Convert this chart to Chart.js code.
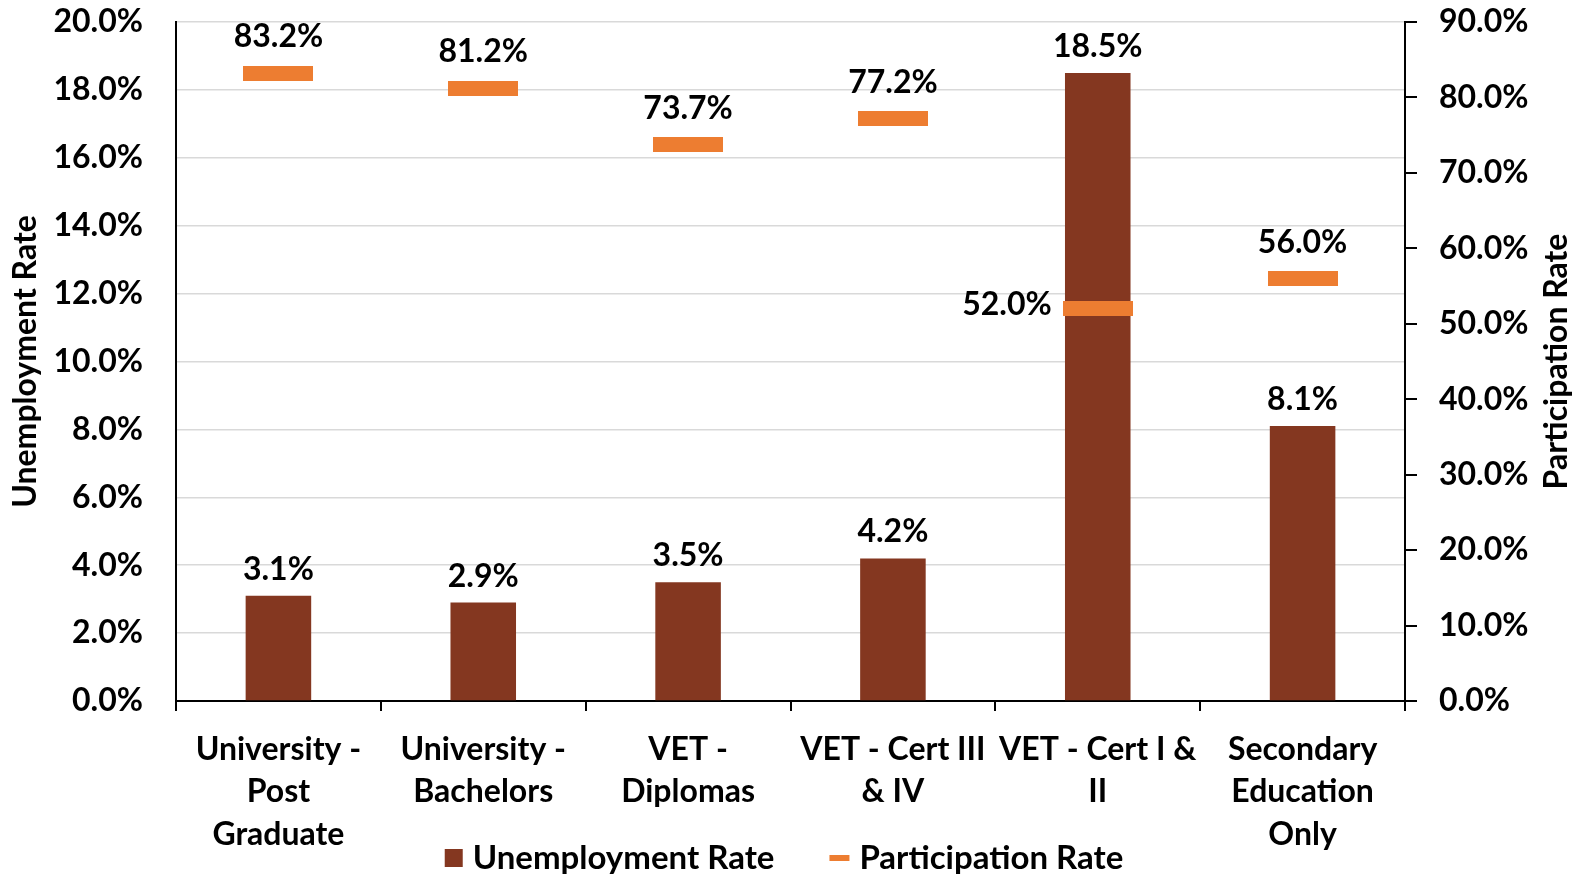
<!DOCTYPE html>
<html>
<head>
<meta charset="utf-8">
<script src="https://cdn.jsdelivr.net/npm/chart.js@4.4.1/dist/chart.umd.min.js"></script>
<style>
  html, body { margin: 0; padding: 0; background: #fff; }
  #wrap { width: 1578px; height: 883px; }
</style>
</head>
<body>
<div id="wrap"><canvas id="rateChart" width="1578" height="883"></canvas></div>
<script>
const categories = [
  ['University -', 'Post', 'Graduate'],
  ['University -', 'Bachelors'],
  ['VET -', 'Diplomas'],
  ['VET - Cert III', '& IV'],
  ['VET - Cert I &', 'II'],
  ['Secondary', 'Education', 'Only']
];
const unemploymentRate = [3.1, 2.9, 3.5, 4.2, 18.5, 8.1];
const participationRate = [83.2, 81.2, 73.7, 77.2, 52.0, 56.0];
const leftTicks = [0, 2, 4, 6, 8, 10, 12, 14, 16, 18, 20];
const rightTicks = [0, 10, 20, 30, 40, 50, 60, 70, 80, 90];

const BROWN = '#843720';
const ORANGE = '#ED7D31';
const FONT = 'Lato, "Open Sans", sans-serif';
const BOLD = 'bold 32px ' + FONT;

const makeRect = (w, h, color) => {
  const c = document.createElement('canvas');
  c.width = w;
  c.height = h;
  const g = c.getContext('2d');
  g.fillStyle = color;
  g.fillRect(0, 0, w, h);
  return c;
};

const markerImg = makeRect(70, 15, ORANGE);

// value labels above bars and markers
const valueLabels = {
  id: 'valueLabels',
  afterDatasetsDraw(chart) {
    const ctx = chart.ctx;
    ctx.save();
    ctx.fillStyle = '#000';
    ctx.font = BOLD;
    chart.getDatasetMeta(0).data.forEach((bar, i) => {
      ctx.textAlign = 'center';
      ctx.textBaseline = 'alphabetic';
      ctx.fillText(unemploymentRate[i].toFixed(1) + '%', bar.x, bar.y - 16);
    });
    chart.getDatasetMeta(1).data.forEach((pt, i) => {
      const txt = participationRate[i].toFixed(1) + '%';
      if (i === 4) {
        ctx.textAlign = 'right';
        ctx.textBaseline = 'middle';
        ctx.fillText(txt, pt.x - 46, pt.y - 4);
      } else {
        ctx.textAlign = 'center';
        ctx.textBaseline = 'alphabetic';
        ctx.fillText(txt, pt.x, pt.y - 26);
      }
    });
    ctx.restore();
  }
};

// right axis title (reads bottom to top) and the bottom legend
const extras = {
  id: 'extras',
  afterDraw(chart) {
    const ctx = chart.ctx;
    const area = chart.chartArea;
    ctx.save();
    ctx.fillStyle = '#000';
    ctx.font = BOLD;

    ctx.save();
    ctx.translate(1557, (area.top + area.bottom) / 2);
    ctx.rotate(-Math.PI / 2);
    ctx.textAlign = 'center';
    ctx.textBaseline = 'middle';
    ctx.fillText('Participation Rate', 0, 0);
    ctx.restore();

    const ds = chart.data.datasets;
    ctx.font = 'bold 33px ' + FONT;
    const w1 = ctx.measureText(ds[0].label).width;
    const w2 = ctx.measureText(ds[1].label).width;
    const gap = 55;
    const total = 18 + 10 + w1 + gap + 20 + 10 + w2;
    let x = 784 - total / 2;
    const cy = 858;
    ctx.textAlign = 'left';
    ctx.textBaseline = 'middle';
    ctx.fillStyle = BROWN;
    ctx.fillRect(x, cy - 9, 18, 18);
    ctx.fillStyle = '#000';
    ctx.fillText(ds[0].label, x + 28, cy);
    x += 28 + w1 + gap;
    ctx.fillStyle = ORANGE;
    ctx.fillRect(x, cy - 3, 20, 6);
    ctx.fillStyle = '#000';
    ctx.fillText(ds[1].label, x + 30, cy);
    ctx.restore();
  }
};

const pct = (v) => v.toFixed(1) + '%';

// keep the plot top where the reference has it
const fixTop = (scale) => {
  scale.paddingTop = 22;
};

new Chart(document.getElementById('rateChart'), {
  type: 'bar',
  data: {
    labels: categories,
    datasets: [
      {
        label: 'Unemployment Rate',
        data: unemploymentRate,
        backgroundColor: BROWN,
        yAxisID: 'y',
        categoryPercentage: 1,
        barPercentage: 0.32,
        order: 2
      },
      {
        type: 'line',
        label: 'Participation Rate',
        data: participationRate,
        yAxisID: 'y2',
        showLine: false,
        pointStyle: markerImg,
        order: 1
      }
    ]
  },
  options: {
    responsive: false,
    animation: false,
    layout: { padding: 0 },
    plugins: {
      tooltip: { enabled: false },
      legend: { display: false }
    },
    scales: {
      x: {
        offset: true,
        border: { color: '#000', width: 2 },
        grid: { display: true, offset: true, drawOnChartArea: false, drawTicks: true, tickLength: 10, color: '#000', lineWidth: 2 },
        ticks: {
          color: '#000',
          padding: 17,
          maxRotation: 0,
          autoSkip: false,
          font: { family: FONT, size: 32, weight: 'bold', lineHeight: 1.33 }
        },
        afterFit: (scale) => { scale.height = 182; }
      },
      y: {
        position: 'left',
        min: 0,
        max: 20,
        afterBuildTicks: (scale) => { scale.ticks = leftTicks.map(v => ({ value: v })); },
        border: { color: '#000', width: 2 },
        grid: { color: '#d9d9d9', lineWidth: 1.5, drawTicks: false },
        ticks: {
          color: '#000',
          padding: 33,
          callback: (v) => pct(v),
          font: { family: FONT, size: 32, weight: 'bold' }
        },
        title: {
          display: true,
          text: 'Unemployment Rate',
          color: '#000',
          padding: { top: 6, bottom: 0 },
          font: { family: FONT, size: 32, weight: 'bold' }
        },
        afterFit: (scale) => { scale.width = 176; fixTop(scale); }
      },
      y2: {
        position: 'right',
        min: 0,
        max: 90,
        afterBuildTicks: (scale) => { scale.ticks = rightTicks.map(v => ({ value: v })); },
        border: { color: '#000', width: 2 },
        grid: { drawOnChartArea: false, drawTicks: true, tickLength: 12, color: '#000', lineWidth: 2 },
        ticks: {
          color: '#000',
          padding: 22,
          callback: (v) => pct(v),
          font: { family: FONT, size: 32, weight: 'bold' }
        },
        afterFit: (scale) => { scale.width = 173; fixTop(scale); }
      }
    }
  },
  plugins: [valueLabels, extras]
});
</script>
</body>
</html>
